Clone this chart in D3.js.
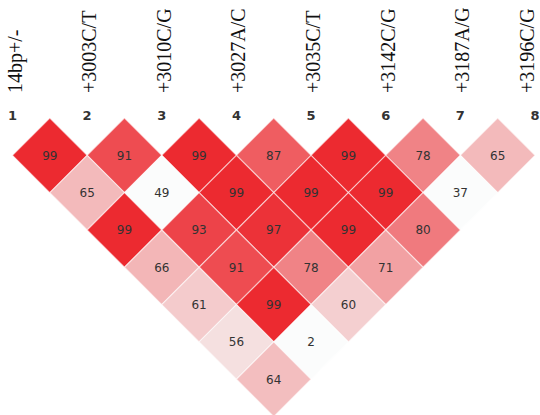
<html>
  <head>
    <script src="https://cdnjs.cloudflare.com/ajax/libs/d3/7.8.5/d3.min.js"></script>
    <meta charset="UTF-8">
    <title>LD plot</title>
    <style>
      body { margin: 0; background: #fff; }
      .marker-name { font-family: 'Liberation Serif', serif; font-size: 20px; fill: #111; }
      .marker-num { font-family: 'DejaVu Sans', sans-serif; font-size: 13px; font-weight: bold; fill: #333; }
      .cell-text { font-family: 'DejaVu Sans', sans-serif; font-size: 12px; fill: #333; }
    </style>
  </head>
  <body>
    <svg id="ld"></svg>
    <script>
      const markerIds = [1, 2, 3, 4, 5, 6, 7, 8]
      const markerNames = ['14bp+/-', '+3003C/T', '+3010C/G', '+3027A/C', '+3035C/T', '+3142C/G', '+3187A/G', '+3196C/G']

      // D' x100, one row per marker distance (row k = pairs (i, i+k))
      const dPrime = [
        [99, 91, 99, 87, 99, 78, 65],
        [65, 49, 99, 99, 99, 37],
        [99, 93, 97, 99, 80],
        [66, 91, 78, 71],
        [61, 99, 60],
        [56, 2],
        [64]
      ]
      // LOD >= 2 (1) or not (0), same layout
      const lodSig = [
        [1, 1, 1, 1, 1, 1, 1],
        [1, 0, 1, 1, 1, 0],
        [1, 1, 1, 1, 1],
        [1, 1, 1, 1],
        [1, 1, 1],
        [1, 0],
        [1]
      ]

      const width = 540
      const height = 415

      const svg = d3.select('#ld')
        .attr('width', width)
        .attr('height', height)

      const x = d3.scalePoint()
        .domain(markerIds)
        .range([12.5, 535])

      const step = x.step()
      const half = step / 2
      const topY = 118

      const color = d3.scaleLinear()
        .domain([56, 99])
        .range(['#f5e0e0', '#ec2a30'])
        .clamp(true)

      const cells = []
      dPrime.forEach((row, k) => {
        row.forEach((v, i) => {
          cells.push({ a: markerIds[i], b: markerIds[i + k + 1], d: k + 1, value: v, sig: lodSig[k][i] })
        })
      })

      // marker names (last one pulled in so it stays on the page)
      svg.selectAll('.marker-name')
        .data(markerIds)
        .enter().append('text')
        .attr('class', 'marker-name')
        .attr('transform', (d) => `translate(${Math.min(x(d) + 9, 534)}, 93) rotate(-90)`)
        .text((d, i) => markerNames[i])

      // marker numbers
      svg.selectAll('.marker-num')
        .data(markerIds)
        .enter().append('text')
        .attr('class', 'marker-num')
        .attr('x', d => x(d))
        .attr('y', 120)
        .attr('text-anchor', 'middle')
        .text(d => d)

      const cell = svg.selectAll('.cell')
        .data(cells)
        .enter().append('g')
        .attr('class', 'cell')
        .attr('transform', d => `translate(${(x(d.a) + x(d.b)) / 2}, ${topY + d.d * half})`)

      cell.append('path')
        .attr('d', `M0,${-half}L${half},0L0,${half}L${-half},0Z`)
        .attr('fill', d => d.sig ? color(d.value) : '#fbfcfc')
        .attr('stroke', '#fff')
        .attr('stroke-opacity', 0.55)
        .attr('stroke-width', 1.2)

      cell.append('text')
        .attr('class', 'cell-text')
        .attr('text-anchor', 'middle')
        .attr('dy', '0.36em')
        .text(d => d.value)
    </script>
  </body>
</html>
